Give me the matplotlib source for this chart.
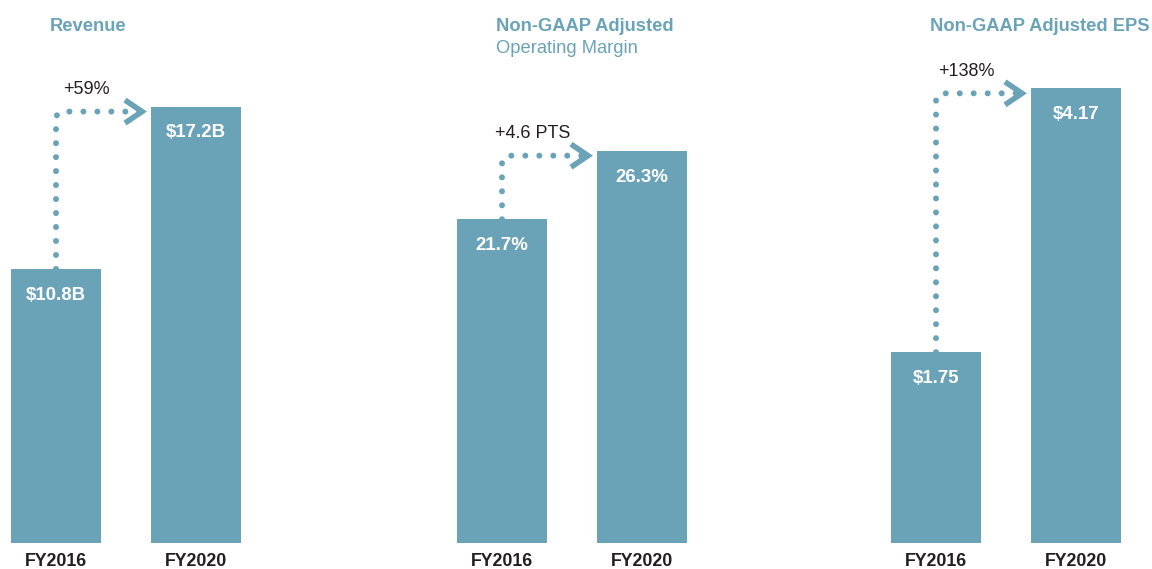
import matplotlib
matplotlib.use('Agg')
import matplotlib.pyplot as plt
from matplotlib.patches import FancyArrowPatch
from matplotlib.transforms import ScaledTranslation, blended_transform_factory

years = ['FY2016', 'FY2020']
titles = ['Revenue', 'Non-GAAP Adjusted', 'Non-GAAP Adjusted EPS']
subtitles = ['', 'Operating Margin', '']
values = [[10.8, 17.2], [21.7, 26.3], [1.75, 4.17]]
value_labels = [['$10.8B', '$17.2B'], ['21.7%', '26.3%'], ['$1.75', '$4.17']]
changes = ['+59%', '+4.6 PTS', '+138%']
ymax = [21.4, 36.4, 4.98]

BAR = '#6aa3b8'
TEXT = '#231f20'
FONT = 'Liberation Sans'
W, H = 1152, 569
plt.rcParams['font.family'] = [FONT, 'DejaVu Sans']


def main():
    fig = plt.figure(figsize=(W / 100, H / 100), dpi=100)
    centers = [126, 572, 1006]
    px_x = 140.0
    bar_w = 90 / px_x
    bottom_px = 26
    ax_h = H - bottom_px

    for i in range(3):
        left = centers[i] - 0.9 * px_x
        ax = fig.add_axes([left / W, bottom_px / H, 1.8 * px_x / W, ax_h / H])
        ax.set_xlim(-0.4, 1.4)
        ax.set_ylim(0, ymax[i])
        ax.bar([0, 1], values[i], width=bar_w, color=BAR)
        for s in ax.spines.values():
            s.set_visible(False)
        ax.set_yticks([])
        ax.set_xticks([0, 1], years)
        ax.tick_params(axis='x', length=0, pad=7)
        for t in ax.get_xticklabels():
            t.set_fontweight('bold')
            t.set_fontsize(12.8)
            t.set_color(TEXT)

        for x, v, lab in zip([0, 1], values[i], value_labels[i]):
            ax.annotate(lab, (x, v), xytext=(0, -19), textcoords='offset points',
                        ha='center', va='center', color='white',
                        fontsize=13.4, fontweight='bold')

        # dotted connector with rounded corner
        py = ymax[i] / ax_h
        level = values[i][1] - 5 * py
        tip = 1 - bar_w / 2 - 6 / px_x
        conn = FancyArrowPatch((0, values[i][0]), (tip - 4 / px_x, level),
                               connectionstyle='angle,angleA=90,angleB=0,rad=8',
                               arrowstyle='-', color=BAR, lw=4.3,
                               linestyle=(0, (0.01, 2.33)), capstyle='round',
                               shrinkA=0, shrinkB=0)
        ax.add_patch(conn)
        tr = fig.dpi_scale_trans + ScaledTranslation(tip, level, ax.transData)
        ax.plot([-0.2, -0.03, -0.2], [0.115, 0, -0.115], transform=tr, color=BAR,
                lw=4, solid_capstyle='butt', solid_joinstyle='miter', clip_on=False)

        ax.text(0.22, level + 22 * py, changes[i], ha='center', va='center',
                fontsize=13, color=TEXT)

        bt = blended_transform_factory(ax.transData, fig.transFigure)
        ax.text(-0.045, 1 - 31 / H, titles[i], transform=bt, ha='left', va='baseline',
                fontsize=13.2, fontweight='bold', color=BAR)
        if subtitles[i]:
            ax.text(-0.045, 1 - 53 / H, subtitles[i], transform=bt, ha='left',
                    va='baseline', fontsize=13.2, color=BAR)

    fig.savefig('out.png', dpi=100)


if __name__ == '__main__':
    main()
